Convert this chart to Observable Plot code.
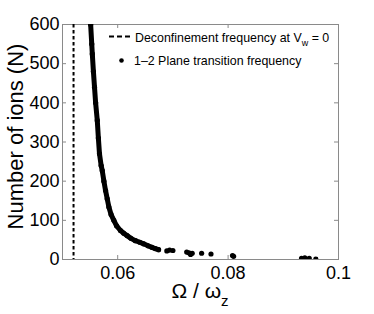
<!DOCTYPE html>
<html>
<head>
<meta charset="utf-8">
<script src="https://cdn.jsdelivr.net/npm/d3@7"></script>
<script src="https://cdn.jsdelivr.net/npm/@observablehq/plot@0.6"></script>
<style>
  html, body { margin: 0; padding: 0; background: #fff; }
  #chart { width: 374px; height: 314px; }
</style>
</head>
<body>
<div id="chart"></div>
<script>
// ---- data ----
const curveX = [0.0551, 0.0553, 0.0554, 0.0556, 0.0558, 0.0560, 0.0563, 0.0565, 0.0567, 0.0570,
                0.0572, 0.0575, 0.0578, 0.0581, 0.0584, 0.0588, 0.0593, 0.0598, 0.0605, 0.0611,
                0.0617, 0.0624, 0.0632, 0.0640, 0.0647, 0.0655, 0.0662, 0.0668, 0.0674];
const curveN = [600, 550, 525, 480, 440, 400, 355, 310, 270, 240,
                227, 200, 176, 155, 134, 115, 100, 86, 74, 67,
                61, 54, 48, 44, 40, 35, 31, 28, 25];
const tailX = [0.0689, 0.0694, 0.0700, 0.0725, 0.0729, 0.0732, 0.0735, 0.0752, 0.0769,
               0.0808, 0.0810, 0.0933, 0.0939, 0.0947, 0.0959];
const tailN = [22, 24, 23, 19, 17, 13, 16, 16, 14,
               10, 8, 3, 4, 3, 1];
const deconfinement = [0.052];
const xTicks = [0.06, 0.08, 0.1];
const yTicks = [0, 100, 200, 300, 400, 500, 600];
const xDomain = [0.05, 0.1];
const yDomain = [0, 600];
const legendLabels = ["Deconfinement frequency at V", "w", " = 0", "1\u20132 Plane transition frequency"];
const yTitle = "Number of ions (N)";

const curve = curveX.map((x, i) => ({x, n: curveN[i]}));
const tail = tailX.map((x, i) => ({x, n: tailN[i]}));
const points = curve.concat(tail);

const W = 374, H = 314;
const mL = 62, mR = 36, mT = 24, mB = 55;
const fw = W - mL - mR, fh = H - mT - mB;
const gray = "#8a8a8a";
const font = "'Liberation Sans', Arial, Helvetica, sans-serif";

const svg = Plot.plot({
  width: W, height: H,
  marginLeft: mL, marginRight: mR, marginTop: mT, marginBottom: mB,
  style: {fontFamily: font, background: "#fff", color: "black"},
  x: {domain: xDomain},
  y: {domain: yDomain},
  marks: [
    Plot.frame({stroke: gray, strokeWidth: 1}),
    // inward ticks on all four sides
    Plot.tickX(xTicks, {x: d => d, stroke: gray, insetTop: fh - 4}),
    Plot.tickX(xTicks, {x: d => d, stroke: gray, insetBottom: fh - 4}),
    Plot.tickY(yTicks, {y: d => d, stroke: gray, insetRight: fw - 4}),
    Plot.tickY(yTicks, {y: d => d, stroke: gray, insetLeft: fw - 4}),
    Plot.axisX({ticks: xTicks, tickSize: 0, tickPadding: 7, fontSize: 18, label: null,
                tickFormat: d => String(d), fill: "black"}),
    Plot.axisY({ticks: yTicks, tickSize: 0, tickPadding: 3, fontSize: 18, label: null,
                tickFormat: d => String(d), fill: "black"}),
    Plot.ruleX(deconfinement, {x: d => d, stroke: "black", strokeWidth: 2, strokeDasharray: "3.5,2.5"}),
    Plot.line(curve, {x: "x", y: "n", stroke: "black", strokeWidth: 5, strokeLinecap: "round", strokeLinejoin: "round", clip: true}),
    Plot.dot(points, {x: "x", y: "n", r: 2.6, fill: "black", stroke: null, clip: true})
  ]
});

// titles and legend
const s = d3.select(svg);
// y title
s.append("text")
  .attr("transform", `translate(22.5,${mT + fh / 2 - 5}) rotate(-90)`)
  .attr("text-anchor", "middle")
  .attr("font-family", font).attr("font-size", 22).attr("fill", "black")
  .text(yTitle);
// x title: Ω / ω_z
const xt = s.append("text")
  .attr("x", mL + fw / 2).attr("y", 298)
  .attr("text-anchor", "middle")
  .attr("font-family", font).attr("font-size", 21).attr("fill", "black");
xt.append("tspan").text("\u03A9 / \u03C9");
xt.append("tspan").attr("dy", 8).attr("font-size", 15).text("z");

// legend
const lg = s.append("g").attr("font-family", font).attr("font-size", 12.4)
  .attr("fill", "black").attr("text-anchor", "start");
lg.append("line").attr("x1", 109).attr("x2", 131).attr("y1", 36.5).attr("y2", 36.5)
  .attr("stroke", "black").attr("stroke-width", 2).attr("stroke-dasharray", "5,3");
const t1 = lg.append("text").attr("x", 135).attr("y", 42).attr("text-anchor", "start");
t1.append("tspan").text(legendLabels[0]);
t1.append("tspan").attr("dy", 4).attr("font-size", 9).text(legendLabels[1]);
t1.append("tspan").attr("dy", -4).text(legendLabels[2]);
lg.append("circle").attr("cx", 121.5).attr("cy", 60.5).attr("r", 2.3).attr("fill", "black");
lg.append("text").attr("x", 134).attr("y", 64.5).attr("text-anchor", "start").text(legendLabels[3]);

document.getElementById("chart").appendChild(svg);
</script>
</body>
</html>
